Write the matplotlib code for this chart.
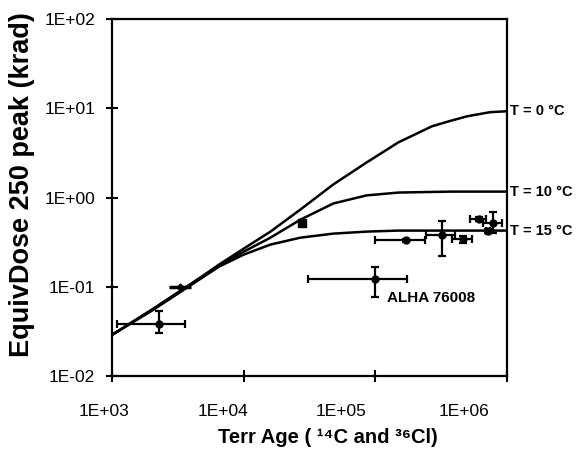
import matplotlib
matplotlib.use("Agg")
import matplotlib.pyplot as plt
import matplotlib.transforms as mtransforms

plt.rcParams['font.family'] = ['Liberation Sans', 'DejaVu Sans']

# model curves
curve_x = [1000, 2000, 4000, 6500, 10000, 16000, 27000, 48000, 86000, 150000, 270000, 370000, 500000, 740000, 1000000]
t0_y = [0.0289, 0.0551, 0.108, 0.177, 0.267, 0.415, 0.733, 1.40, 2.47, 4.15, 6.28, 7.2, 8.13, 9.02, 9.25]

curve_x2 = [1000, 2000, 4000, 6500, 10000, 16000, 27000, 48000, 86000, 150000, 370000, 1000000]
t10_y = [0.0289, 0.0551, 0.108, 0.172, 0.247, 0.355, 0.565, 0.857, 1.056, 1.136, 1.164, 1.164]
t15_y = [0.0289, 0.0537, 0.105, 0.168, 0.229, 0.297, 0.355, 0.394, 0.415, 0.426, 0.426, 0.426]

curve_labels = ['T = 0 °C', 'T = 10 °C', 'T = 15 °C']

# meteorite points: age, age range, dose, dose range
age = [2270, 100000, 170000, 320000, 460000, 610000, 780000, 720000]
age_lo = [1100, 31000, 100000, 245000, 380000, 520000, 660000, 690000]
age_hi = [3580, 174000, 240000, 400000, 540000, 690000, 910000, 750000]
dose = [0.038, 0.123, 0.33, 0.38, 0.34, 0.58, 0.52, 0.42]
dose_lo = [0.030, 0.077, 0.32, 0.22, 0.31, 0.55, 0.40, 0.40]
dose_hi = [0.054, 0.168, 0.34, 0.54, 0.37, 0.61, 0.68, 0.44]

# point lying on the curves
on_age = [3300]
on_age_lo = [2700]
on_age_hi = [4000]
on_dose = [0.100]

sq_age = [28000]
sq_dose = [0.52]

xticks = [1e3, 1e4, 1e5, 1e6]
xtick_labels = ['1E+03', '1E+04', '1E+05', '1E+06']
yticks = [1e-2, 1e-1, 1e0, 1e1, 1e2]
ytick_labels = ['1E-02', '1E-01', '1E+00', '1E+01', '1E+02']

fig = plt.figure(figsize=(5.8, 4.62), dpi=100)
ax = fig.add_axes([0.193, 0.186, 0.681, 0.773])

ax.plot(curve_x, t0_y, color='black', lw=1.8)
ax.plot(curve_x2, t10_y, color='black', lw=1.8)
ax.plot(curve_x2, t15_y, color='black', lw=1.8)

xerr = [[a - l for a, l in zip(age, age_lo)], [h - a for a, h in zip(age, age_hi)]]
yerr = [[d - l for d, l in zip(dose, dose_lo)], [h - d for d, h in zip(dose, dose_hi)]]
ax.errorbar(age, dose, xerr=xerr, yerr=yerr, fmt='o', color='black', ms=5,
            elinewidth=1.6, capsize=3, capthick=1.6)
ax.errorbar(on_age, on_dose,
            xerr=[[a - l for a, l in zip(on_age, on_age_lo)], [h - a for a, h in zip(on_age, on_age_hi)]],
            fmt='D', color='black', ms=3.5, elinewidth=2.5, capsize=0)
ax.plot(sq_age, sq_dose, 's', color='black', ms=6)

ax.set_xscale('log')
ax.set_yscale('log')
ax.set_xlim(1e3, 1e6)
ax.set_ylim(1e-2, 1e2)
ax.set_xticks(xticks)
ax.set_xticklabels(xtick_labels)
ax.set_yticks(yticks)
ax.set_yticklabels(ytick_labels)
ax.minorticks_off()
ax.tick_params(direction='inout', length=8, width=1.5, labelsize=12.5)
ax.tick_params(axis='x', pad=16)
ax.tick_params(axis='y', pad=8)
for s in ax.spines.values():
    s.set_linewidth(1.6)

ends = [t0_y[-1], t10_y[-1], t15_y[-1]]
for lab, yv in zip(curve_labels, ends):
    ax.text(1.06e6, yv, lab, fontsize=10.5, fontweight='bold', va='center', ha='left', clip_on=False)

ax.text(1.23e5, 0.0752, 'ALHA 76008', fontsize=11, fontweight='bold', va='center', ha='left')

ax.set_xlabel('Terr Age ( ¹⁴C and ³⁶Cl)', fontsize=14.5, fontweight='bold')
ax.set_ylabel('EquivDose 250 peak (krad)', fontsize=19.5, fontweight='bold')
ax.xaxis.set_label_coords(0.547, -0.171)
ax.yaxis.set_label_coords(-0.228, 0.535)
ax.xaxis.label.set_va('center')
ax.yaxis.label.set_va('center')

# the scanned x tick labels sit a bit left of their ticks
shift_px = [-8, -21, -34, -43]
for lbl, dx in zip(ax.get_xticklabels(), shift_px):
    lbl.set_transform(lbl.get_transform() + mtransforms.ScaledTranslation(dx / 100, 0, fig.dpi_scale_trans))

fig.savefig('out.png', dpi=100)
